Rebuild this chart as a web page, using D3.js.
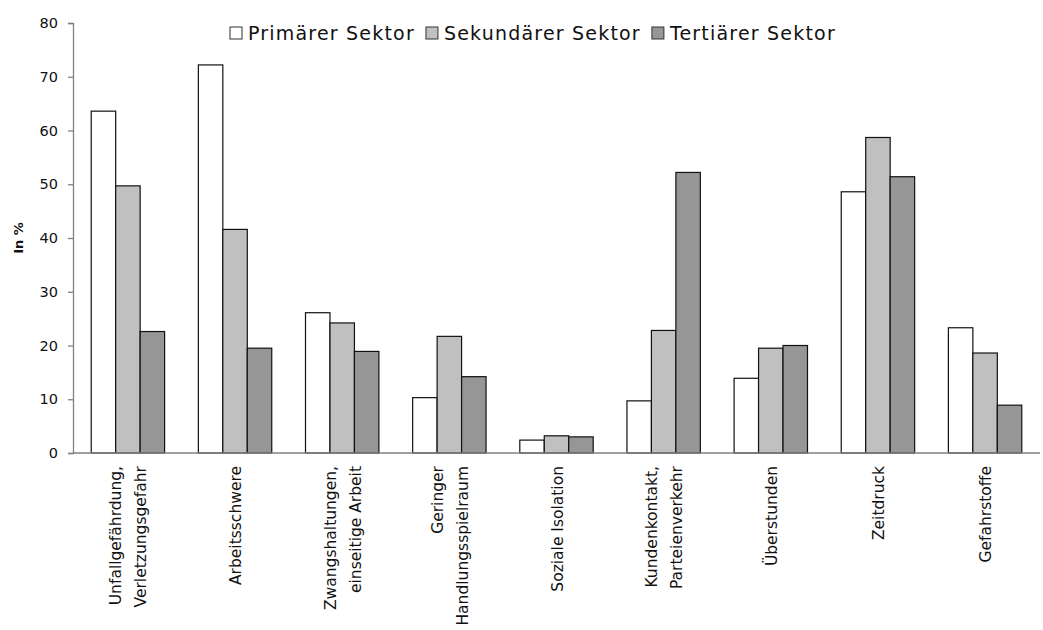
<!DOCTYPE html>
<html>
<head>
<meta charset="utf-8">
<script src="https://cdn.jsdelivr.net/npm/d3@7"></script>
<style>
  body { margin: 0; background: #fff; }
  text { font-family: "DejaVu Sans", sans-serif; fill: #111; }
</style>
</head>
<body>
<div id="chart"></div>
<script>
const categories = [
  ["Unfallgefährdung,", "Verletzungsgefahr"],
  ["Arbeitsschwere"],
  ["Zwangshaltungen,", "einseitige Arbeit"],
  ["Geringer", "Handlungsspielraum"],
  ["Soziale Isolation"],
  ["Kundenkontakt,", "Parteienverkehr"],
  ["Überstunden"],
  ["Zeitdruck"],
  ["Gefahrstoffe"]
];
const seriesNames = ["Primärer Sektor", "Sekundärer Sektor", "Tertiärer Sektor"];
const primaer   = [63.6, 72.2, 26.1, 10.3, 2.4, 9.7, 13.9, 48.6, 23.3];
const sekundaer = [49.7, 41.6, 24.2, 21.7, 3.2, 22.8, 19.5, 58.7, 18.6];
const tertiaer  = [22.6, 19.5, 18.9, 14.2, 3.0, 52.2, 20.0, 51.4, 8.9];
const yTicks = [0, 10, 20, 30, 40, 50, 60, 70, 80];
const colors = ["#ffffff", "#c0c0c0", "#969696"];

const width = 1043, height = 630;
const margin = {top: 23, right: 3, bottom: 177, left: 73};
const innerWidth = width - margin.left - margin.right;
const innerHeight = height - margin.top - margin.bottom;

const series = [primaer, sekundaer, tertiaer];
const data = categories.map((c, i) => ({key: i, label: c, values: series.map(s => s[i])}));

const svg = d3.select("#chart").append("svg")
  .attr("width", width).attr("height", height);
const g = svg.append("g").attr("transform", `translate(${margin.left},${margin.top})`);

const x0 = d3.scaleBand().domain(data.map(d => d.key)).range([0, innerWidth]).paddingInner(0.315).paddingOuter(0.17);
const x1 = d3.scaleBand().domain([0, 1, 2]).range([0, x0.bandwidth()]);
const y = d3.scaleLinear().domain([0, 80]).range([innerHeight, 0]);

// y axis
const gY = g.append("g")
  .call(d3.axisLeft(y).tickValues(yTicks).tickSize(5).tickPadding(10));
gY.select(".domain").attr("stroke", "#808080").attr("stroke-width", 1.3);
gY.selectAll(".tick line").attr("stroke", "#808080").attr("stroke-width", 1.3);
gY.selectAll(".tick text").style("font-family", "DejaVu Sans").style("font-size", "14.5px").attr("fill", "#222");

// bars
const groups = g.selectAll(".grp").data(data).enter().append("g")
  .attr("class", "grp")
  .attr("transform", d => `translate(${x0(d.key)},0)`);
groups.selectAll("rect").data(d => d.values.map((v, j) => ({j, v}))).enter().append("rect")
  .attr("x", d => x1(d.j))
  .attr("y", d => y(d.v))
  .attr("width", x1.bandwidth())
  .attr("height", d => innerHeight - y(d.v))
  .attr("fill", d => colors[d.j])
  .attr("stroke", "#111")
  .attr("stroke-width", 1.2);

// x axis line
g.append("line")
  .attr("x1", 0).attr("x2", innerWidth)
  .attr("y1", innerHeight).attr("y2", innerHeight)
  .attr("stroke", "#808080").attr("stroke-width", 1.5);

// x labels (rotated around their own anchor)
const lineGap = 25;
data.forEach(d => {
  const cx = margin.left + x0(d.key) + x0.bandwidth() / 2;
  const n = d.label.length;
  d.label.forEach((t, k) => {
    const lx = cx + (k - (n - 1) / 2) * lineGap + 6;
    const ly = margin.top + innerHeight + 13;
    svg.append("text")
      .attr("x", lx).attr("y", ly)
      .attr("transform", `rotate(-90,${lx},${ly})`)
      .attr("text-anchor", "end")
      .style("font-size", "15.5px")
      .text(t);
  });
});

// y label
const yl = {x: 23, y: margin.top + innerHeight / 2};
svg.append("text")
  .attr("x", yl.x).attr("y", yl.y)
  .attr("transform", `rotate(-90,${yl.x},${yl.y})`)
  .attr("text-anchor", "middle")
  .style("font-size", "13px").style("font-weight", "bold")
  .text("In %");

// legend, laid out left to right
const legend = svg.append("g");
let lx = 230;
seriesNames.forEach((name, i) => {
  legend.append("rect")
    .attr("x", lx).attr("y", 27)
    .attr("width", 12).attr("height", 12)
    .attr("fill", colors[i]).attr("stroke", "#333").attr("stroke-width", 1);
  const t = legend.append("text")
    .attr("x", lx + 18).attr("y", 39.5)
    .style("font-size", "19px")
    .style("letter-spacing", "1.2px")
    .text(name);
  lx += 18 + t.node().getComputedTextLength() + 11;
});
</script>
</body>
</html>
